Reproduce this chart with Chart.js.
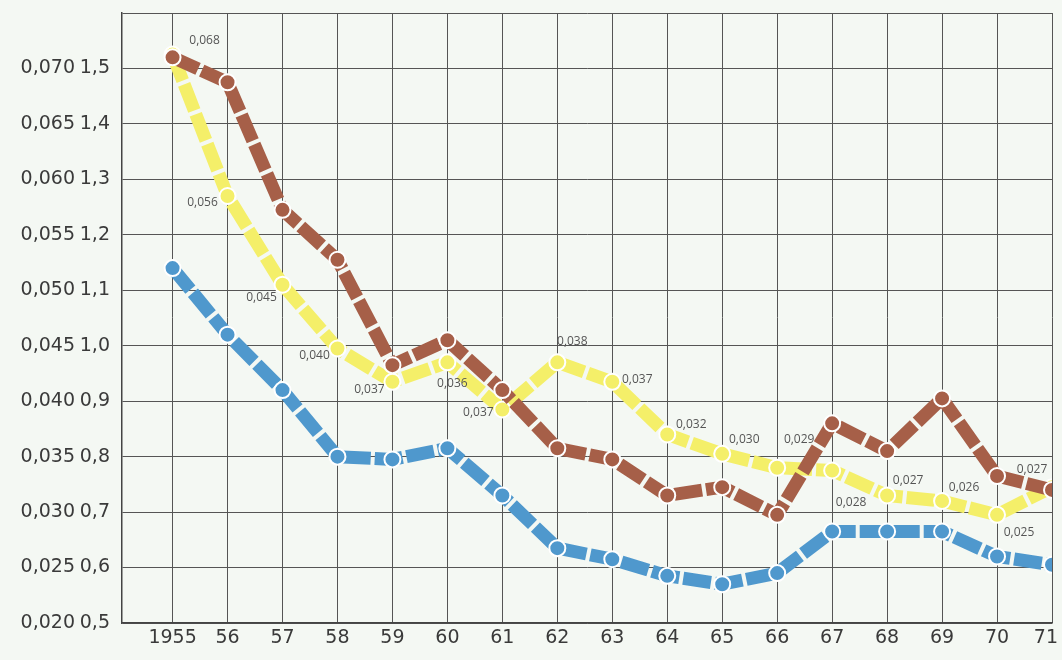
<!DOCTYPE html>
<html>
<head>
<meta charset="utf-8">
<script src="https://cdn.jsdelivr.net/npm/chart.js@4.4.0/dist/chart.umd.min.js"></script>
<style>
  html, body { margin: 0; padding: 0; background: #f4f8f3; }
  #wrap { width: 1062px; height: 660px; position: relative; }
</style>
</head>
<body>
<div id="wrap"><canvas id="chart"></canvas></div>
<script>
// years on the x axis and how they are printed
const years = [1955, 1956, 1957, 1958, 1959, 1960, 1961, 1962, 1963, 1964, 1965, 1966, 1967, 1968, 1969, 1970, 1971];
const yearLabels = ['1955', '56', '57', '58', '59', '60', '61', '62', '63', '64', '65', '66', '67', '68', '69', '70', '71  '];

// values read on the inner (1,5 ... 0,5) scale
const brownSeries = [1.52, 1.475, 1.245, 1.155, 0.965, 1.01, 0.92, 0.815, 0.795, 0.73, 0.745, 0.695, 0.86, 0.81, 0.905, 0.765, 0.74];
const yellowSeries = [1.525, 1.27, 1.11, 0.995, 0.935, 0.97, 0.885, 0.97, 0.935, 0.84, 0.805, 0.78, 0.775, 0.73, 0.72, 0.695, 0.745];
const blueSeries = [1.14, 1.02, 0.92, 0.8, 0.795, 0.815, 0.73, 0.635, 0.615, 0.585, 0.57, 0.59, 0.665, 0.665, 0.665, 0.62, 0.605];

// small printed values next to the yellow line
const yellowNotes = ['0,068', '0,056', '0,045', '0,040', '0,037', '0,036', '0,037', '0,038', '0,037', '0,032', '0,030', '0,029', '0,028', '0,027', '0,026', '0,025', '0,027'];

// tick values and the two columns of labels
const yTicks = [0.5, 0.6, 0.7, 0.8, 0.9, 1.0, 1.1, 1.2, 1.3, 1.4, 1.5, 1.6];
const innerLabels = ['0,5', '0,6', '0,7', '0,8', '0,9', '1,0', '1,1', '1,2', '1,3', '1,4', '1,5', ''];
const outerLabels = ['0,020', '0,025', '0,030', '0,035', '0,040', '0,045', '0,050', '0,055', '0,060', '0,065', '0,070', ''];

// where each note sits relative to its point
const noteShift = [[32, -14], [-25, 7], [-21, 13], [-23, 7], [-23, 8], [5, 21], [-24, 3], [15, -21], [25, -2], [24, -10], [22, -14], [22, -28], [19, 32], [21, -15], [22, -13], [22, 18], [-20, -18]];

const toPoints = arr => arr.map((v, i) => ({ x: years[i], y: v }));

const lineStyle = color => ({
  borderColor: color,
  backgroundColor: color,
  borderWidth: 13,
  borderDash: [28, 4],
  borderCapStyle: 'butt',
  borderJoinStyle: 'round',
  tension: 0,
  pointRadius: 8,
  pointBorderColor: '#ffffff',
  pointBorderWidth: 2,
  pointBackgroundColor: color
});

// draws the small values near the yellow line
const notesPlugin = {
  id: 'notes',
  afterDatasetsDraw(chart) {
    const ctx = chart.ctx;
    const meta = chart.getDatasetMeta(1);
    ctx.save();
    ctx.font = '12px "Open Sans"';
    ctx.fillStyle = '#555';
    ctx.textAlign = 'center';
    ctx.textBaseline = 'middle';
    meta.data.forEach((pt, i) => {
      ctx.fillText(yellowNotes[i], pt.x + noteShift[i][0], pt.y + noteShift[i][1]);
    });
    ctx.restore();
  }
};

const tickFont = { family: 'DejaVu Sans', size: 19 };

new Chart(document.getElementById('chart'), {
  type: 'line',
  data: {
    datasets: [
      Object.assign({ label: 'brown', data: toPoints(brownSeries) }, lineStyle('#a65f48')),
      Object.assign({ label: 'yellow', data: toPoints(yellowSeries) }, lineStyle('#f4ef69')),
      Object.assign({ label: 'blue', data: toPoints(blueSeries) }, lineStyle('#4f98cd'))
    ]
  },
  options: {
    responsive: true,
    maintainAspectRatio: false,
    animation: false,
    layout: { padding: { top: 13, right: 6, left: 0, bottom: 0 } },
    plugins: {
      legend: { display: false },
      tooltip: { enabled: false }
    },
    scales: {
      x: {
        type: 'linear',
        min: 1954.08,
        max: 1971,
        afterBuildTicks: s => { s.ticks = years.map(v => ({ value: v })); },
        afterFit: s => { s.height = 37; s.paddingLeft = 0; s.paddingRight = 0; },
        grid: { color: '#555', lineWidth: 1, drawTicks: false },
        border: { color: '#444', width: 1.5 },
        ticks: {
          color: '#3a3a3a',
          font: tickFont,
          padding: 4,
          maxRotation: 0,
          autoSkip: false,
          callback: (v, i) => yearLabels[i]
        }
      },
      y: {
        position: 'left',
        weight: 0,
        min: 0.5,
        max: 1.6,
        afterBuildTicks: s => { s.ticks = yTicks.map(v => ({ value: v })); },
        afterFit: s => { s.width = 42; s.paddingTop = 0; s.paddingBottom = 0; },
        grid: { color: '#555', lineWidth: 1, drawTicks: false },
        border: { color: '#444', width: 1.5 },
        ticks: {
          color: '#3a3a3a',
          font: tickFont,
          padding: 12,
          callback: (v, i) => innerLabels[i]
        }
      },
      yL: {
        position: 'left',
        weight: 1,
        min: 0.5,
        max: 1.6,
        afterBuildTicks: s => { s.ticks = yTicks.map(v => ({ value: v })); },
        afterFit: s => { s.width = 80; s.paddingTop = 0; s.paddingBottom = 0; },
        grid: { display: false, drawTicks: false },
        border: { display: false },
        ticks: {
          color: '#3a3a3a',
          font: tickFont,
          padding: 5,
          callback: (v, i) => outerLabels[i]
        }
      }
    }
  },
  plugins: [notesPlugin]
});
</script>
</body>
</html>
